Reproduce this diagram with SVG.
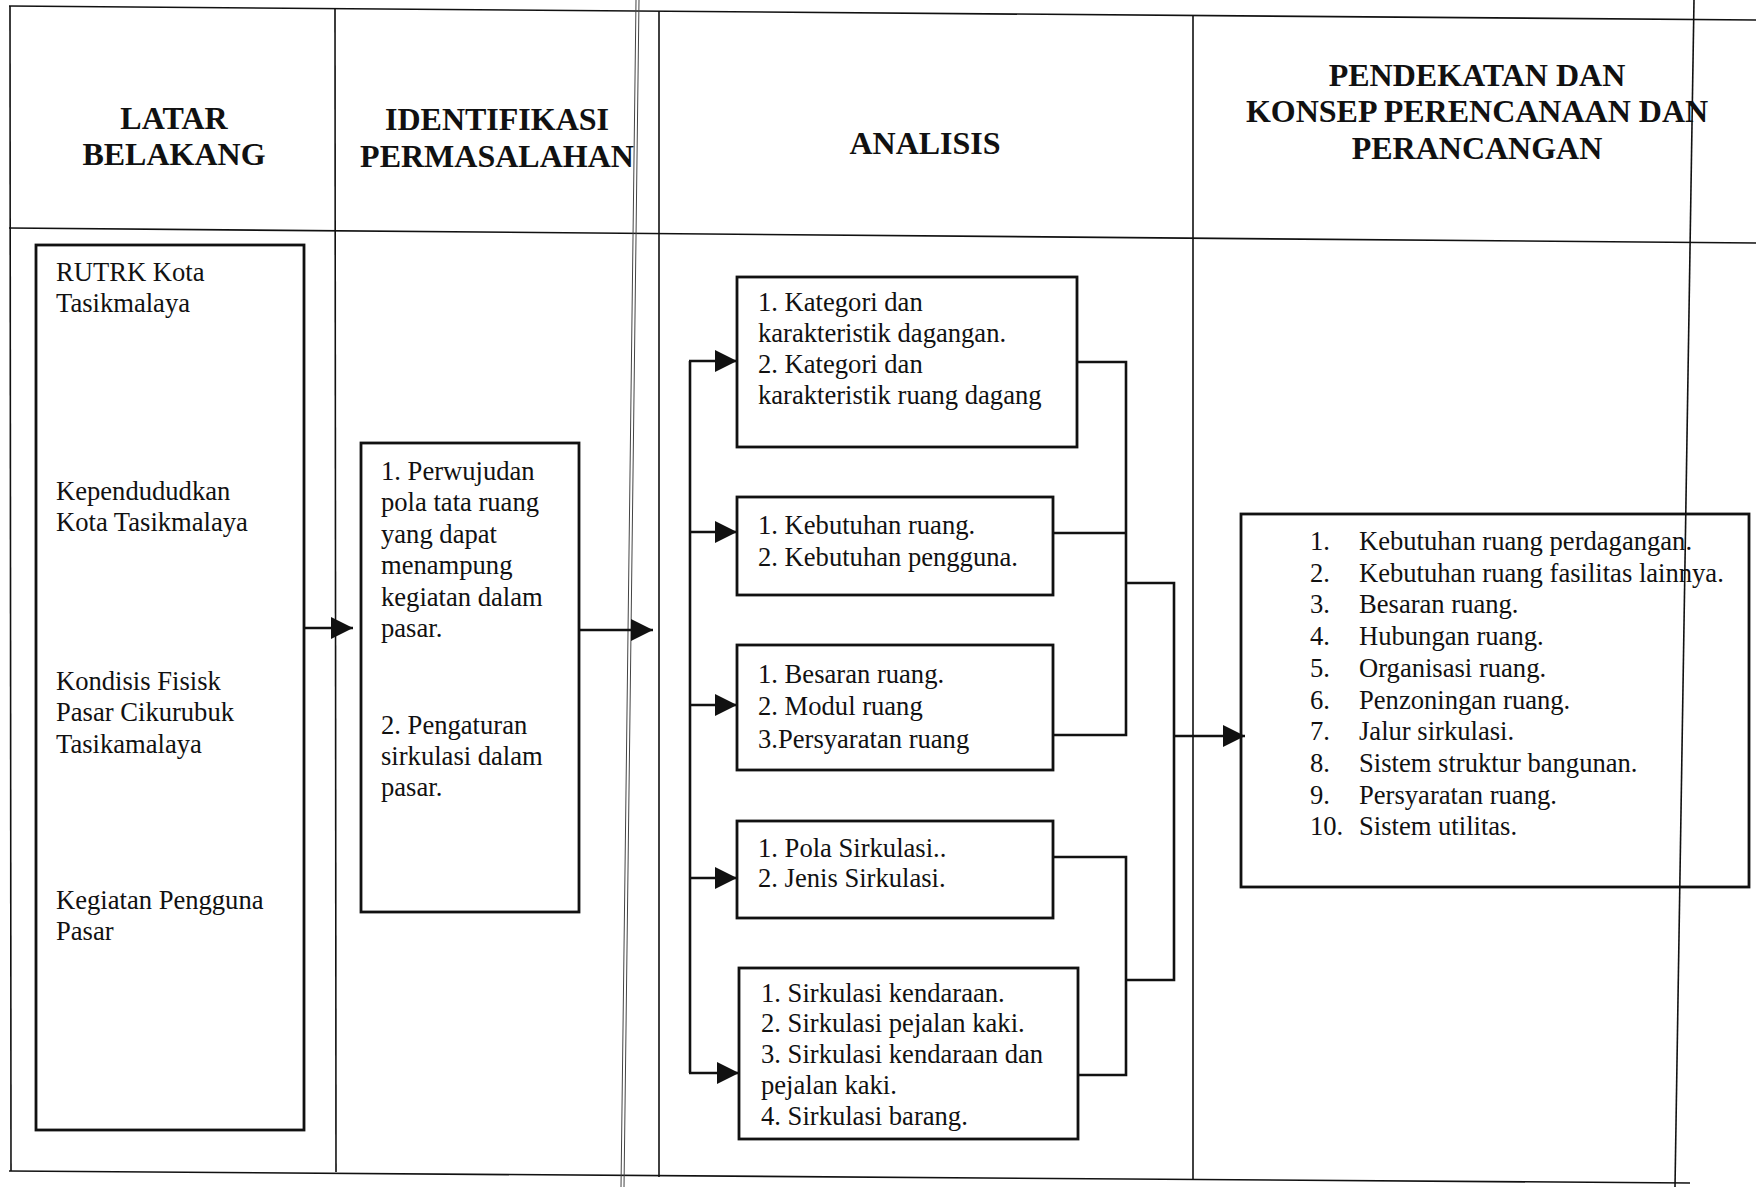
<svg xmlns="http://www.w3.org/2000/svg" width="1756" height="1187" viewBox="0 0 1756 1187">
<style>
  .grid { stroke: #111; stroke-width: 1.6; fill: none; }
  .thin { stroke: #444; stroke-width: 1; fill: none; }
  .box { stroke: #111; stroke-width: 2.8; fill: none; }
  .conn { stroke: #111; stroke-width: 2.6; fill: none; }
  .head { font-family: 'Liberation Serif', 'Times New Roman', serif; font-weight: bold; font-size: 32px; fill: #111; text-anchor: middle; }
  .txt { font-family: 'Liberation Serif', 'Times New Roman', serif; font-size: 26.6px; fill: #111; }
</style>
<defs>
  <marker id="arr" markerUnits="userSpaceOnUse" markerWidth="23" markerHeight="22" refX="22" refY="11" orient="auto">
    <path d="M0,0 L22,11 L0,22 z" fill="#111"/>
  </marker>
</defs>
<rect width="1756" height="1187" fill="#fff"/>

<g id="table-grid">
  <line class="grid" x1="9" y1="6" x2="1756" y2="20"/>
  <line class="grid" x1="9" y1="228" x2="1756" y2="243"/>
  <line class="grid" x1="9" y1="1171" x2="1690" y2="1183"/>
  <line class="grid" x1="10" y1="6" x2="11" y2="1171"/>
  <line class="grid" x1="335" y1="8" x2="336" y2="1172"/>
  <line class="thin" x1="636" y1="0" x2="621" y2="1187"/>
  <line class="thin" x1="639" y1="0" x2="624" y2="1187"/>
  <line class="grid" x1="659" y1="11" x2="659" y2="1177"/>
  <line class="grid" x1="1193" y1="15" x2="1193" y2="1180"/>
  <line class="grid" x1="1694" y1="0" x2="1675" y2="1187"/>
</g>

<g id="headers">
  <text class="head" x="174" y="129">LATAR</text>
  <text class="head" x="174" y="165">BELAKANG</text>
  <text class="head" x="497" y="130">IDENTIFIKASI</text>
  <text class="head" x="497" y="167">PERMASALAHAN</text>
  <text class="head" x="925" y="154">ANALISIS</text>
  <text class="head" x="1477" y="86">PENDEKATAN DAN</text>
  <text class="head" x="1477" y="122">KONSEP PERENCANAAN DAN</text>
  <text class="head" x="1477" y="159">PERANCANGAN</text>
</g>

<g id="connectors">
  <line class="conn" x1="304" y1="628" x2="353" y2="628" marker-end="url(#arr)"/>
  <line class="conn" x1="579" y1="630" x2="653" y2="630" marker-end="url(#arr)"/>
  <line class="conn" x1="690" y1="361" x2="690" y2="1073"/>
  <line class="conn" x1="689" y1="361" x2="737" y2="361" marker-end="url(#arr)"/>
  <line class="conn" x1="690" y1="532" x2="737" y2="532" marker-end="url(#arr)"/>
  <line class="conn" x1="690" y1="705" x2="737" y2="705" marker-end="url(#arr)"/>
  <line class="conn" x1="690" y1="878" x2="737" y2="878" marker-end="url(#arr)"/>
  <line class="conn" x1="689" y1="1073" x2="739" y2="1073" marker-end="url(#arr)"/>
  <path class="conn" d="M1077,362 H1126 V735 H1053"/>
  <path class="conn" d="M1053,533 H1126"/>
  <path class="conn" d="M1126,583 H1174 V980 H1126"/>
  <path class="conn" d="M1053,857 H1126 V1075 H1078"/>
  <line class="conn" x1="1174" y1="736" x2="1245" y2="736" marker-end="url(#arr)"/>
</g>

<g id="node-latar">
  <rect class="box" x="36" y="245" width="268" height="885"/>
  <text class="txt" x="56" y="281">RUTRK  Kota</text>
  <text class="txt" x="56" y="312">Tasikmalaya</text>
  <text class="txt" x="56" y="500">Kependududkan</text>
  <text class="txt" x="56" y="531">Kota Tasikmalaya</text>
  <text class="txt" x="56" y="690">Kondisis Fisisk</text>
  <text class="txt" x="56" y="721">Pasar Cikurubuk</text>
  <text class="txt" x="56" y="753">Tasikamalaya</text>
  <text class="txt" x="56" y="909">Kegiatan Pengguna</text>
  <text class="txt" x="56" y="940">Pasar</text>
</g>

<g id="node-identifikasi">
  <rect class="box" x="361" y="443" width="218" height="469"/>
  <text class="txt" x="381" y="480">1. Perwujudan</text>
  <text class="txt" x="381" y="511">pola tata ruang</text>
  <text class="txt" x="381" y="543">yang dapat</text>
  <text class="txt" x="381" y="574">menampung</text>
  <text class="txt" x="381" y="606">kegiatan dalam</text>
  <text class="txt" x="381" y="637">pasar.</text>
  <text class="txt" x="381" y="734">2. Pengaturan</text>
  <text class="txt" x="381" y="765">sirkulasi dalam</text>
  <text class="txt" x="381" y="796">pasar.</text>
</g>

<g id="node-analisis-1">
  <rect class="box" x="737" y="277" width="340" height="170"/>
  <text class="txt" x="758" y="311">1. Kategori dan</text>
  <text class="txt" x="758" y="342">karakteristik dagangan.</text>
  <text class="txt" x="758" y="373">2. Kategori dan</text>
  <text class="txt" x="758" y="404">karakteristik ruang dagang</text>
</g>

<g id="node-analisis-2">
  <rect class="box" x="737" y="497" width="316" height="98"/>
  <text class="txt" x="758" y="534">1. Kebutuhan ruang.</text>
  <text class="txt" x="758" y="566">2. Kebutuhan pengguna.</text>
</g>

<g id="node-analisis-3">
  <rect class="box" x="737" y="645" width="316" height="125"/>
  <text class="txt" x="758" y="683">1. Besaran ruang.</text>
  <text class="txt" x="758" y="715">2. Modul ruang</text>
  <text class="txt" x="758" y="748">3.Persyaratan ruang</text>
</g>

<g id="node-analisis-4">
  <rect class="box" x="737" y="821" width="316" height="97"/>
  <text class="txt" x="758" y="857">1. Pola Sirkulasi..</text>
  <text class="txt" x="758" y="887">2. Jenis Sirkulasi.</text>
</g>

<g id="node-analisis-5">
  <rect class="box" x="739" y="968" width="339" height="171"/>
  <text class="txt" x="761" y="1002">1. Sirkulasi kendaraan.</text>
  <text class="txt" x="761" y="1032">2. Sirkulasi pejalan kaki.</text>
  <text class="txt" x="761" y="1063">3. Sirkulasi kendaraan dan</text>
  <text class="txt" x="761" y="1094">pejalan kaki.</text>
  <text class="txt" x="761" y="1125">4. Sirkulasi barang.</text>
</g>

<g id="node-konsep">
  <rect class="box" x="1241" y="514" width="508" height="373"/>
  <text class="txt" x="1310" y="550">1.</text><text class="txt" x="1359" y="550">Kebutuhan ruang perdagangan.</text>
  <text class="txt" x="1310" y="582">2.</text><text class="txt" x="1359" y="582">Kebutuhan ruang fasilitas lainnya.</text>
  <text class="txt" x="1310" y="613">3.</text><text class="txt" x="1359" y="613">Besaran ruang.</text>
  <text class="txt" x="1310" y="645">4.</text><text class="txt" x="1359" y="645">Hubungan ruang.</text>
  <text class="txt" x="1310" y="677">5.</text><text class="txt" x="1359" y="677">Organisasi ruang.</text>
  <text class="txt" x="1310" y="709">6.</text><text class="txt" x="1359" y="709">Penzoningan ruang.</text>
  <text class="txt" x="1310" y="740">7.</text><text class="txt" x="1359" y="740">Jalur sirkulasi.</text>
  <text class="txt" x="1310" y="772">8.</text><text class="txt" x="1359" y="772">Sistem struktur bangunan.</text>
  <text class="txt" x="1310" y="804">9.</text><text class="txt" x="1359" y="804">Persyaratan ruang.</text>
  <text class="txt" x="1310" y="835">10.</text><text class="txt" x="1359" y="835">Sistem utilitas.</text>
</g>
</svg>
